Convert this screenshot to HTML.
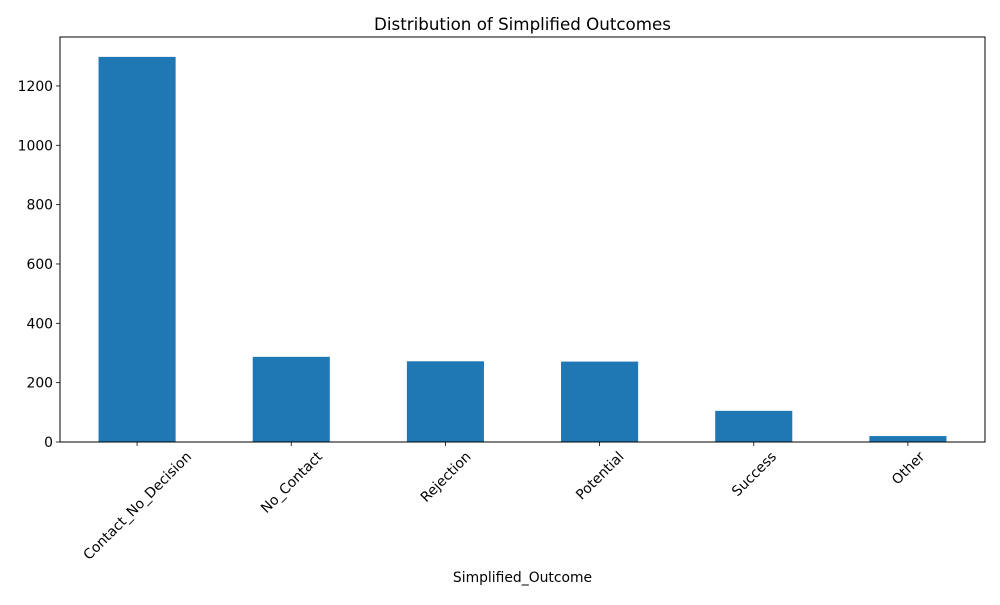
<!DOCTYPE html>
<html><head><meta charset="utf-8"><style>
body{margin:0;background:#fff;font-family:"Liberation Sans","DejaVu Sans",sans-serif}
</style></head><body>
<svg id="chart" width="1000" height="600" xmlns="http://www.w3.org/2000/svg" font-family="DejaVu Sans, Liberation Sans, sans-serif">
<rect width="1000" height="600" fill="#fff"/>
<text x="522.5" y="30" font-size="16.7" text-anchor="middle">Distribution of Simplified Outcomes</text>
<g id="bars"></g><g id="axes"></g>
<text x="522.5" y="582" font-size="13.9" text-anchor="middle">Simplified_Outcome</text>
</svg>
<script>
const categories = ["Contact_No_Decision","No_Contact","Rejection","Potential","Success","Other"];
const counts = [1298, 287, 272, 271, 105, 20];
const yTicks = [0, 200, 400, 600, 800, 1000, 1200];
const L=60,R=985,T=37,B=442,YMAX=1365;
const FS=13.9;
const NS="http://www.w3.org/2000/svg";
const step=(R-L)/categories.length;
const xc=i=>L+step*(i+0.5);
const y=v=>B-(v/YMAX)*(B-T);
const bars=document.getElementById('bars'), axes=document.getElementById('axes');
function mk(tag,attrs,parent){const e=document.createElementNS(NS,tag);for(const k in attrs)e.setAttribute(k,attrs[k]);parent.appendChild(e);return e;}
categories.forEach((c,i)=>{
  const r=mk('rect',{x:xc(i)-step/4,y:y(counts[i]),width:step/2,height:B-y(counts[i]),fill:'#1f77b4'},bars);
  
  
  mk('line',{x1:xc(i),x2:xc(i),y1:B,y2:B+4,stroke:'#000','stroke-width':0.8},axes);
  const t=mk('text',{x:0,y:5,'font-size':FS,'text-anchor':'middle'},axes);
  t.textContent=c;
  
  
  const w=t.getComputedTextLength(), h=FS;
  const cy=B+7+(w+h)*0.7071/2;
  t.setAttribute('transform',`translate(${xc(i)},${cy}) rotate(-45)`);
});
yTicks.forEach(v=>{
  mk('line',{x1:L-4,x2:L,y1:y(v),y2:y(v),stroke:'#000','stroke-width':0.8},axes);
  const t=mk('text',{x:L-7,y:y(v)+5,'font-size':FS,'text-anchor':'end'},axes);
  t.textContent=v;
  
  
});
const f=mk('rect',{x:L,y:T,width:R-L,height:B-T,fill:'none',stroke:'#000','stroke-width':1},axes);


</script>
</body></html>
